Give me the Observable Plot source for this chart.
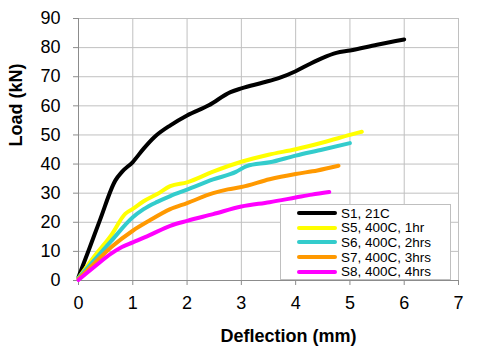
<!DOCTYPE html>
<html>
<head>
<meta charset="utf-8">
<script src="https://cdn.jsdelivr.net/npm/d3@7"></script>
<script src="https://cdn.jsdelivr.net/npm/@observablehq/plot@0.6"></script>
<style>
  body { margin: 0; background: white; }
  #wrap { position: relative; width: 477px; height: 353px; font-family: "Liberation Sans", Arial, sans-serif; }
  #legend { position: absolute; left: 280px; top: 204px; width: 171px; height: 76px; border: 1px solid #bfbfbf; background: white; box-sizing: border-box; padding-top: 1px; }
  .row { display: flex; align-items: center; height: 14.6px; font-size: 13.5px; color: #000; white-space: nowrap; }
  .sw { width: 40px; height: 4px; margin-left: 16px; margin-right: 4px; border-radius: 2px; }
</style>
</head>
<body>
<div id="wrap"></div>
<script>
const names = ["S1, 21C", "S5, 400C, 1hr", "S6, 400C, 2hrs", "S7, 400C, 3hrs", "S8, 400C, 4hrs"];
const colors = ["#000000", "#FFFF00", "#33CCCC", "#FF9900", "#FF00FF"];
const xTicks = [0, 1, 2, 3, 4, 5, 6, 7];
const yTicks = [0, 10, 20, 30, 40, 50, 60, 70, 80, 90];

const s1x = [0, 0.2, 0.4, 0.68, 0.8, 1.0, 1.2, 1.4, 1.7, 2.0, 2.4, 2.8, 3.0, 3.4, 3.7, 4.0, 4.25, 4.5, 4.75, 5.0, 5.5, 6.0];
const s1y = [1.2, 11, 21, 34.4, 37.3, 40.7, 45.3, 49.3, 53.4, 56.7, 60.2, 64.7, 66, 68, 69.6, 71.9, 74.3, 76.5, 78.2, 79, 81, 82.8];

const s5x = [0, 0.3, 0.6, 0.86, 1.0, 1.2, 1.45, 1.69, 2.0, 2.48, 3.0, 3.5, 4.0, 4.5, 5.0, 5.22];
const s5y = [0.8, 8.5, 15.5, 22.9, 24.6, 27.2, 29.7, 32.4, 33.7, 37.4, 40.8, 43.2, 45.1, 47.4, 50, 51.1];

const s6x = [0, 0.3, 0.6, 1.0, 1.2, 1.45, 1.69, 2.0, 2.48, 2.9, 3.1, 3.52, 4.0, 4.5, 5.0];
const s6y = [0.8, 7.2, 13.5, 21.7, 24.5, 27.0, 29.0, 31.2, 34.7, 37.3, 39.3, 40.6, 42.9, 45.0, 47.2];

const s7x = [0, 0.3, 0.6, 1.0, 1.3, 1.69, 2.0, 2.48, 2.75, 3.0, 3.52, 4.0, 4.4, 4.79];
const s7y = [0.5, 6, 11.4, 17.1, 20.5, 24.5, 26.6, 30.0, 31.3, 32.1, 34.8, 36.6, 37.8, 39.4];

const s8x = [0, 0.3, 0.6, 0.8, 1.0, 1.3, 1.69, 2.0, 2.48, 3.0, 3.52, 4.0, 4.3, 4.62];
const s8y = [0.2, 4.8, 9.2, 11.5, 13.1, 15.5, 18.8, 20.5, 22.8, 25.4, 26.9, 28.5, 29.5, 30.4];

const xs = [s1x, s5x, s6x, s7x, s8x];
const ys = [s1y, s5y, s6y, s7y, s8y];
const rows = [];
names.forEach((n, i) => xs[i].forEach((x, j) => rows.push({s: n, x, y: ys[i][j]})));

const chart = Plot.plot({
  width: 477, height: 353,
  marginLeft: 78, marginRight: 19, marginTop: 18, marginBottom: 73,
  style: {fontFamily: "'Liberation Sans', Arial, sans-serif", fontSize: "18px", color: "#000", background: "white"},
  x: {domain: [0, 7]},
  y: {domain: [0, 90]},
  color: {domain: names, range: colors},
  marks: [
    Plot.gridX(xTicks, {stroke: "#c0c0c0", strokeOpacity: 1}),
    Plot.gridY(yTicks, {stroke: "#c0c0c0", strokeOpacity: 1}),
    Plot.axisX(xTicks, {tickSize: 5, tickPadding: 11, fontSize: 18, stroke: "#8c8c8c", fill: "#000", label: null}),
    Plot.axisY(yTicks, {tickSize: 5, tickPadding: 13, fontSize: 18, stroke: "#8c8c8c", fill: "#000", label: null}),
    Plot.ruleY([0], {stroke: "#8c8c8c"}),
    Plot.ruleX([0], {stroke: "#8c8c8c"}),
    Plot.line(rows, {x: "x", y: "y", z: "s", stroke: "s", strokeWidth: 4, curve: "monotone-x", strokeLinejoin: "round", strokeLinecap: "round"}),
    Plot.text(["Deflection (mm)"], {text: d => d, frameAnchor: "bottom", dx: 20, dy: 61, fontWeight: "bold", fontSize: 18}),
    Plot.text(["Load (kN)"], {text: d => d, frameAnchor: "left", rotate: -90, dx: -62, dy: -3, fontWeight: "bold", fontSize: 18})
  ]
});
const wrap = document.getElementById("wrap");
wrap.appendChild(chart);

const legend = document.createElement("div");
legend.id = "legend";
names.forEach((n, i) => {
  const r = document.createElement("div");
  r.className = "row";
  const sw = document.createElement("div");
  sw.className = "sw";
  sw.style.background = colors[i];
  const t = document.createElement("span");
  t.textContent = n;
  r.appendChild(sw); r.appendChild(t);
  legend.appendChild(r);
});
wrap.appendChild(legend);
</script>
</body>
</html>
